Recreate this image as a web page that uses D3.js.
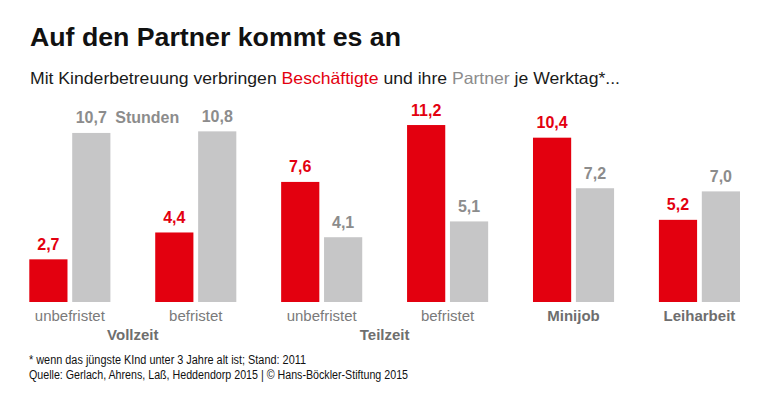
<!DOCTYPE html>
<html><head><meta charset="utf-8">
<script src="https://cdn.jsdelivr.net/npm/d3@7"></script>
<style>
html,body{margin:0;padding:0;background:#fff;}
svg{display:block;font-family:"Liberation Sans",Arial,sans-serif;}
</style></head>
<body>
<svg id="chart" width="768" height="393"></svg>
<script>
const categories = ["Vollzeit unbefristet","Vollzeit befristet","Teilzeit unbefristet","Teilzeit befristet","Minijob","Leiharbeit"];
const catLabels = ["unbefristet","befristet","unbefristet","befristet","Minijob","Leiharbeit"];
const catBold = [false,false,false,false,true,true];
const beschaeftigte = [2.7, 4.4, 7.6, 11.2, 10.4, 5.2];
const partner = [10.7, 10.8, 4.1, 5.1, 7.2, 7.0];
const groupLabels = [{text:"Vollzeit", from:0, to:1},{text:"Teilzeit", from:2, to:3}];
const series = ["Beschäftigte","Partner"];

const RED = "#e3000f", GRAY = "#c6c6c7", GRAYTXT = "#8c8c8c", DARKGRAY = "#6e6e6e";
const fmt = v => d3.format(".1f")(v).replace(".", ",");

const svg = d3.select("#chart");

// title
svg.append("text").attr("x",30).attr("y",45.7)
  .attr("font-size",26).attr("font-weight","bold").attr("fill","#111")
  .attr("textLength",371).attr("lengthAdjust","spacingAndGlyphs")
  .text("Auf den Partner kommt es an");

// subtitle
const sub = svg.append("text").attr("x",30).attr("y",84.3)
  .attr("font-size",16.5).attr("fill","#1a1a1a")
  .attr("textLength",590).attr("lengthAdjust","spacingAndGlyphs");
sub.append("tspan").text("Mit Kinderbetreuung verbringen ");
sub.append("tspan").attr("fill",RED).text("Beschäftigte");
sub.append("tspan").text(" und ihre ");
sub.append("tspan").attr("fill",GRAYTXT).text("Partner");
sub.append("tspan").text(" je Werktag*...");

const baseY = 302;
const x0 = d3.scaleBand().domain(categories).range([29.3, 740]).paddingInner(0.356).paddingOuter(0);
const x1 = d3.scaleBand().domain(series).range([0, x0.bandwidth()]).paddingInner(0.11);
const y = d3.scaleLinear().domain([0, 12]).range([baseY, baseY - 12*15.8]);

const data = categories.map((c,i)=>({cat:c, vals:[{s:series[0], v:beschaeftigte[i]},{s:series[1], v:partner[i]}]}));

const g = svg.selectAll("g.grp").data(data).join("g").attr("class","grp")
  .attr("transform", d=>`translate(${x0(d.cat)},0)`);

g.selectAll("rect").data(d=>d.vals).join("rect")
  .attr("x", d=>x1(d.s)).attr("width", x1.bandwidth())
  .attr("y", d=>y(d.v)).attr("height", d=>baseY - y(d.v))
  .attr("fill", d=>d.s===series[0]?RED:GRAY);

g.selectAll("text.val").data(d=>d.vals).join("text").attr("class","val")
  .attr("x", d=>x1(d.s)+x1.bandwidth()/2).attr("y", d=>y(d.v)-9.5)
  .attr("text-anchor","middle").attr("font-size",16).attr("font-weight","bold")
  .attr("fill", d=>d.s===series[0]?RED:GRAYTXT)
  .text(d=>fmt(d.v));

// "Stunden" next to the first partner value
svg.append("text")
  .attr("x", x0(categories[0]) + x1(series[1]) + x1.bandwidth()/2 + 24)
  .attr("y", y(partner[0]) - 9.5)
  .attr("font-size",16).attr("font-weight","bold").attr("fill",GRAYTXT)
  .text("Stunden");

// category labels
svg.selectAll("text.cat").data(categories).join("text").attr("class","cat")
  .attr("x", d=>x0(d)+x0.bandwidth()/2).attr("y",320.7)
  .attr("text-anchor","middle").attr("font-size",15)
  .attr("font-weight",(d,i)=>catBold[i]?"bold":"normal")
  .attr("fill",(d,i)=>catBold[i]?DARKGRAY:"#7a7a7a")
  .text((d,i)=>catLabels[i]);

// group labels
svg.selectAll("text.grpl").data(groupLabels).join("text").attr("class","grpl")
  .attr("x", d=>(x0(categories[d.from])+x0.bandwidth()/2 + x0(categories[d.to])+x0.bandwidth()/2)/2)
  .attr("y",340).attr("text-anchor","middle").attr("font-size",15).attr("font-weight","bold")
  .attr("fill",DARKGRAY).text(d=>d.text);

// footnotes
svg.append("text").attr("x",29).attr("y",364).attr("font-size",12).attr("fill","#111")
  .attr("textLength",277).attr("lengthAdjust","spacingAndGlyphs")
  .text("* wenn das jüngste KInd unter 3 Jahre alt ist; Stand: 2011");
svg.append("text").attr("x",29).attr("y",378.5).attr("font-size",12).attr("fill","#111")
  .attr("textLength",379).attr("lengthAdjust","spacingAndGlyphs")
  .text("Quelle: Gerlach, Ahrens, Laß, Heddendorp 2015 | © Hans-Böckler-Stiftung 2015");
</script>
</body></html>
